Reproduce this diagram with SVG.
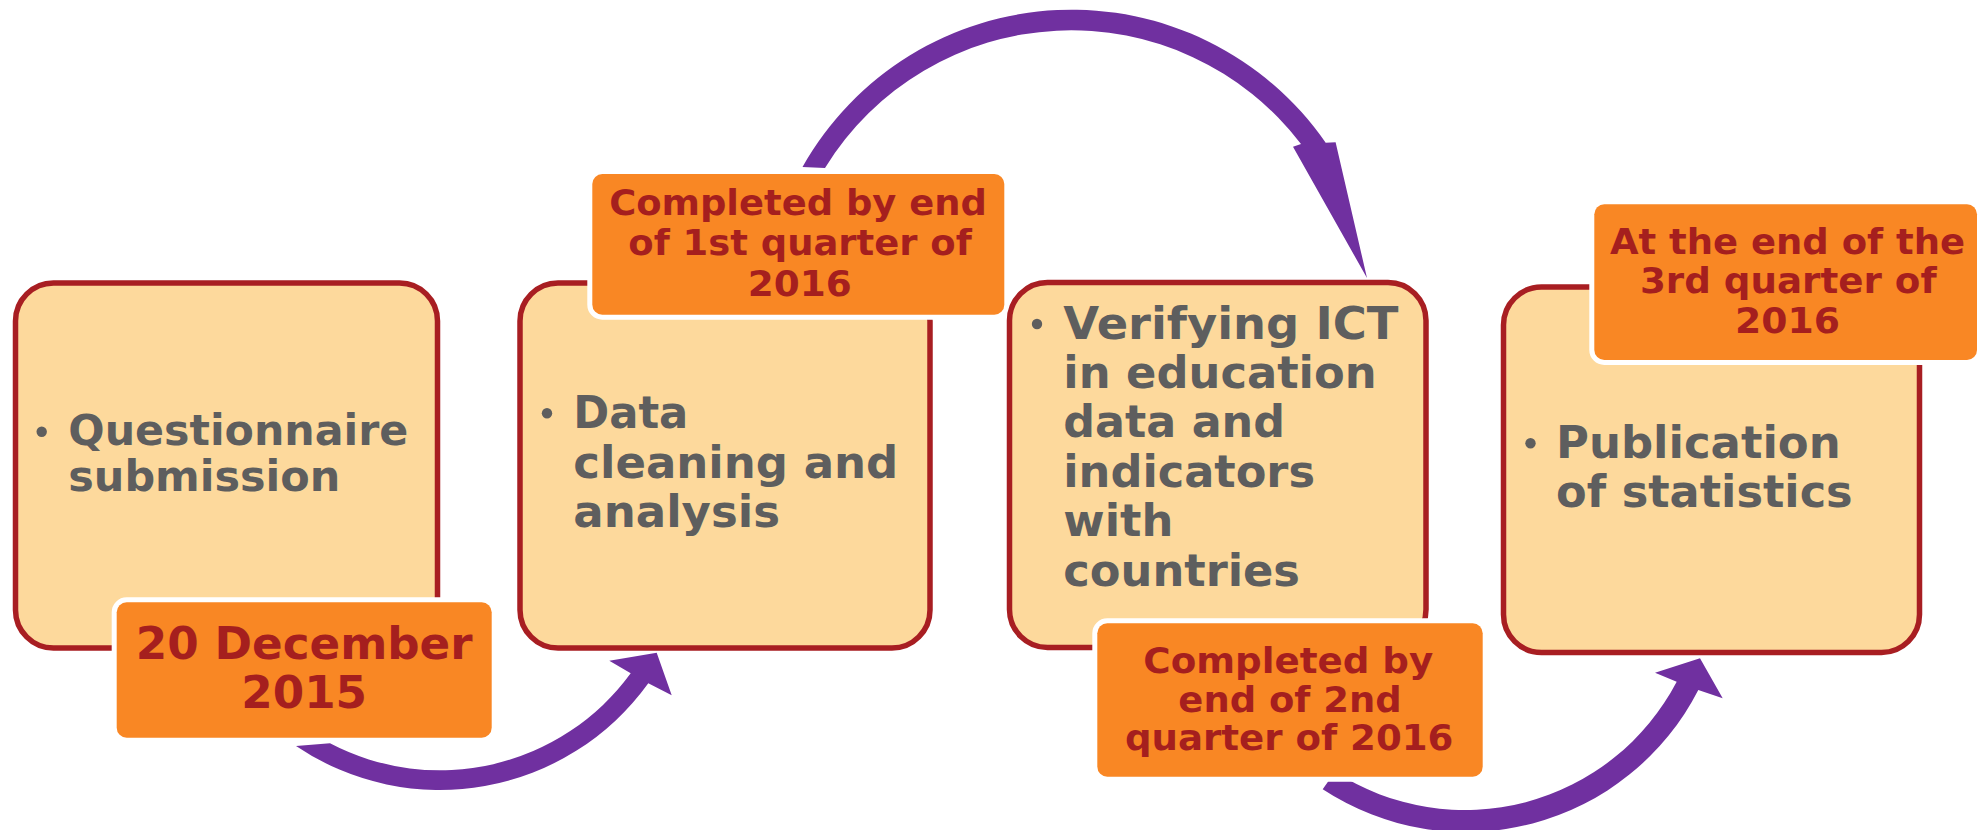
<svg xmlns="http://www.w3.org/2000/svg" width="1978" height="830" viewBox="0 0 1978 830">
<style>
.step{fill:#FDD99C;stroke:#A81E22;stroke-width:5.5}
.lbl{fill:#F98724;stroke:#FFFFFF;stroke-width:10;paint-order:stroke fill}
.bt{font-family:"DejaVu Sans","Liberation Sans",sans-serif;font-weight:bold;font-size:44px;fill:#5E5E5E}
.lt{font-family:"DejaVu Sans","Liberation Sans",sans-serif;font-weight:bold;font-size:36px;fill:#A51F1E;text-anchor:middle}
.dot{fill:#5E5E5E}
.arr{fill:#7030A0}
</style>
<rect width="1978" height="830" fill="#FFFFFF"/>
<g id="connectors">
<path class="arr" d="M 296 746 A 257 257 0 0 0 648.3 683.3 L 671.7 695.3 L 656.7 652.7 L 609.3 660.7 L 630.7 673.3 A 236.5 236.5 0 0 1 330 743.3 Z"/>
<path class="arr" d="M 802.5 167 A 309 309 0 0 1 1325.7 142.7 L 1335.6 142.3 L 1367 278 L 1293 146.7 L 1301 144 A 289 289 0 0 0 825 168 Z"/>
<path class="arr" d="M 1322.7 789.3 A 261 261 0 0 0 1698.3 690 L 1722.7 698.3 L 1700 658.3 L 1655 672.7 L 1676.7 681.7 A 239 239 0 0 1 1335 771.7 Z"/>
</g>
<g id="step1">
<rect class="step" x="15.5" y="283" width="422" height="365" rx="38"/>
<circle class="dot" cx="41.7" cy="431.7" r="5.2"/>
<text class="bt" style="font-size:42px" x="68.3" y="445.3" textLength="340" lengthAdjust="spacingAndGlyphs">Questionnaire</text>
<text class="bt" style="font-size:42px" x="68.3" y="491" textLength="272" lengthAdjust="spacingAndGlyphs">submission</text>
</g>
<g id="label1">
<rect class="lbl" x="116.7" y="602.3" width="375" height="135.4" rx="10"/>
<text class="lt" style="font-size:45px" x="304.2" y="659" textLength="336.7" lengthAdjust="spacingAndGlyphs">20 December</text>
<text class="lt" style="font-size:45px" x="304.2" y="707.7" textLength="125.7" lengthAdjust="spacingAndGlyphs">2015</text>
</g>
<g id="step2">
<rect class="step" x="520" y="283" width="410" height="365" rx="38"/>
<circle class="dot" cx="547" cy="413.3" r="5.2"/>
<text class="bt" x="573.3" y="428.3" textLength="115" lengthAdjust="spacingAndGlyphs">Data</text>
<text class="bt" x="573.3" y="478.3" textLength="325" lengthAdjust="spacingAndGlyphs">cleaning and</text>
<text class="bt" x="573.3" y="526.7" textLength="206.7" lengthAdjust="spacingAndGlyphs">analysis</text>
</g>
<g id="label2">
<rect class="lbl" x="592.3" y="174" width="412" height="140.7" rx="10"/>
<text class="lt" x="798" y="214.7" textLength="377.7" lengthAdjust="spacingAndGlyphs">Completed by end</text>
<text class="lt" x="800" y="255.3" textLength="343.4" lengthAdjust="spacingAndGlyphs">of 1st quarter of</text>
<text class="lt" x="799.7" y="296.3" textLength="104" lengthAdjust="spacingAndGlyphs">2016</text>
</g>
<g id="step3">
<rect class="step" x="1009.5" y="282.5" width="416.5" height="365" rx="38"/>
<circle class="dot" cx="1037" cy="324" r="5.2"/>
<text class="bt" x="1063.3" y="339.3" textLength="335" lengthAdjust="spacingAndGlyphs">Verifying ICT</text>
<text class="bt" x="1063.3" y="388.3" textLength="313.3" lengthAdjust="spacingAndGlyphs">in education</text>
<text class="bt" x="1063.3" y="437.3" textLength="221.7" lengthAdjust="spacingAndGlyphs">data and</text>
<text class="bt" x="1063.3" y="486.7" textLength="251.7" lengthAdjust="spacingAndGlyphs">indicators</text>
<text class="bt" x="1063.3" y="536" textLength="110" lengthAdjust="spacingAndGlyphs">with</text>
<text class="bt" x="1063.3" y="586" textLength="236.7" lengthAdjust="spacingAndGlyphs">countries</text>
</g>
<g id="label3">
<rect class="lbl" x="1097.3" y="623.3" width="385.4" height="153.4" rx="10"/>
<text class="lt" x="1288.3" y="673.3" textLength="290" lengthAdjust="spacingAndGlyphs">Completed by</text>
<text class="lt" x="1290" y="711.7" textLength="223.3" lengthAdjust="spacingAndGlyphs">end of 2nd</text>
<text class="lt" x="1289.2" y="750" textLength="328.3" lengthAdjust="spacingAndGlyphs">quarter of 2016</text>
</g>
<g id="step4">
<rect class="step" x="1503.5" y="287" width="416" height="365.5" rx="38"/>
<circle class="dot" cx="1530.5" cy="443.3" r="5.2"/>
<text class="bt" x="1556" y="458.3" textLength="284.7" lengthAdjust="spacingAndGlyphs">Publication</text>
<text class="bt" x="1556" y="506.7" textLength="296.7" lengthAdjust="spacingAndGlyphs">of statistics</text>
</g>
<g id="label4">
<rect class="lbl" x="1594.3" y="204.3" width="382.7" height="155.7" rx="10"/>
<text class="lt" x="1787.5" y="254.3" textLength="355" lengthAdjust="spacingAndGlyphs">At the end of the</text>
<text class="lt" x="1788.3" y="293.3" textLength="296.7" lengthAdjust="spacingAndGlyphs">3rd quarter of</text>
<text class="lt" x="1787.5" y="333.3" textLength="105" lengthAdjust="spacingAndGlyphs">2016</text>
</g>
</svg>
